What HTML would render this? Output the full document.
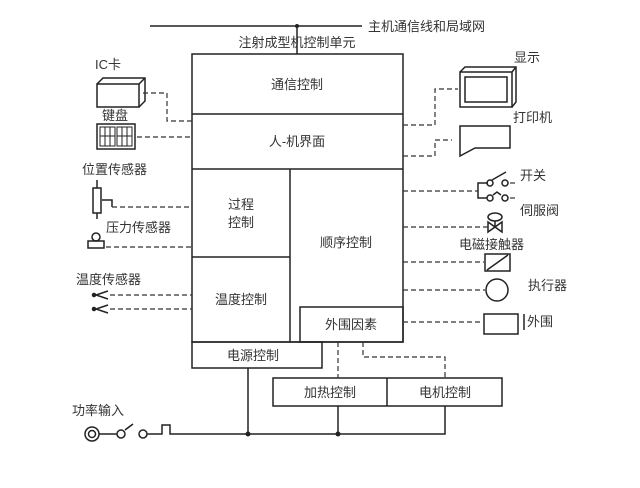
<!DOCTYPE html>
<html><head><meta charset="utf-8"><style>
html,body{margin:0;padding:0;background:#fff;}
svg{display:block;}
text{font-family:"Liberation Sans","Noto Sans CJK SC",sans-serif;font-size:13px;fill:#333;}
</style></head><body>
<svg width="640" height="488" viewBox="0 0 640 488" xmlns="http://www.w3.org/2000/svg">
<g stroke="#222" stroke-width="1.5" fill="none">
<!-- top bus -->
<line x1="150" y1="26" x2="362" y2="26"/>
<line x1="297" y1="26" x2="297" y2="54"/>
<!-- main box -->
<rect x="192" y="54" width="211" height="288"/>
<line x1="192" y1="114" x2="403" y2="114"/>
<line x1="192" y1="169" x2="403" y2="169"/>
<line x1="290" y1="169" x2="290" y2="342"/>
<line x1="192" y1="257" x2="290" y2="257"/>
<rect x="300" y="307" width="103" height="35"/>
<rect x="192" y="342" width="130" height="26"/>
<rect x="273" y="378" width="229" height="28"/>
<line x1="387" y1="378" x2="387" y2="406"/>
<!-- power -->
<line x1="248" y1="368" x2="248" y2="434"/>
<line x1="338" y1="406" x2="338" y2="434"/>
<polyline points="445,406 445,434 170,434 170,425 162,425 162,434 150,434"/>
<circle cx="92" cy="434" r="7"/><circle cx="92" cy="434" r="3.5"/>
<line x1="99" y1="434" x2="117" y2="434"/>
<circle cx="121" cy="434" r="4"/>
<line x1="125" y1="430" x2="133" y2="424"/>
<circle cx="143" cy="434" r="4"/>
<line x1="147" y1="434" x2="150" y2="434"/>
<!-- IC card -->
<rect x="97" y="84" width="42" height="23"/>
<polyline points="97,84 103,78 145,78 145,101 139,107"/><line x1="139" y1="84" x2="145" y2="78"/>
<!-- keyboard -->
<rect x="97" y="124" width="38" height="25"/>
<rect x="100" y="127" width="15" height="19" stroke-width="1"/><rect x="117" y="127" width="15" height="19" stroke-width="1"/>
<path d="M105 127V146M110 127V146M122 127V146M127 127V146M100 136H115M117 136H132" stroke-width="1"/>
<!-- position sensor -->
<rect x="93" y="188" width="8" height="25"/>
<line x1="97" y1="180" x2="97" y2="188"/><line x1="97" y1="213" x2="97" y2="219"/>
<polyline points="102,200 112,200 112,207"/>
<!-- pressure -->
<rect x="88" y="241" width="16" height="7"/>
<circle cx="96" cy="237" r="4"/>
<!-- temp -->
<path d="M108 291L96 295L108 299M108 305L96 309L108 313"/>
<circle cx="94" cy="295" r="1.5" fill="#222"/><circle cx="94" cy="309" r="1.5" fill="#222"/>
<!-- display -->
<rect x="460" y="72" width="52" height="35"/>
<rect x="465" y="77" width="42" height="25"/>
<polyline points="460,72 465,67 516,67 516,102 512,107"/><line x1="512" y1="72" x2="516" y2="67"/>
<!-- printer -->
<polygon points="460,126 510,126 510,148 475,148 460,156"/>
<!-- switch -->
<circle cx="490" cy="183" r="3"/><circle cx="505" cy="183" r="3"/>
<line x1="492" y1="180" x2="506" y2="172"/>
<circle cx="490" cy="198" r="3"/><circle cx="505" cy="198" r="3"/>
<polyline points="488,183 478,183 478,198 487,198"/>
<path d="M493 195L497 192L501 195"/>
<!-- valve -->
<ellipse cx="495" cy="217" rx="7" ry="4"/>
<line x1="495" y1="221" x2="495" y2="227"/>
<polygon points="488,222 502,232 502,222 488,232"/>
<!-- contactor -->
<rect x="485" y="254" width="25" height="17"/>
<line x1="487" y1="270" x2="508" y2="255"/>
<circle cx="497" cy="290" r="11"/>
<rect x="484" y="314" width="34" height="20"/>
<line x1="524" y1="314" x2="524" y2="330"/>
</g>
<circle cx="297" cy="26" r="2" fill="#222"/>
<circle cx="248" cy="434" r="2.5" fill="#222"/><circle cx="338" cy="434" r="2.5" fill="#222"/>
<g stroke="#333" stroke-width="1.2" fill="none" stroke-dasharray="5,3">
<polyline points="143,93 167,93 167,121 192,121"/>
<line x1="137" y1="137" x2="192" y2="137"/>
<line x1="112" y1="207" x2="192" y2="207"/>
<line x1="106" y1="247" x2="192" y2="247"/>
<line x1="110" y1="295" x2="192" y2="295"/>
<line x1="110" y1="309" x2="192" y2="309"/>
<polyline points="403,125 435,125 435,89 458,89"/>
<polyline points="403,156 435,156 435,140 452,140"/>
<line x1="403" y1="191" x2="478" y2="191"/>
<line x1="403" y1="227" x2="488" y2="227"/>
<line x1="403" y1="262" x2="484" y2="262"/>
<line x1="403" y1="290" x2="485" y2="290"/>
<line x1="403" y1="322" x2="483" y2="322"/>
<line x1="338" y1="342" x2="338" y2="378"/>
<polyline points="363,342 363,357 445,357 445,378"/>
<line x1="510" y1="183" x2="517" y2="183"/><line x1="510" y1="198" x2="517" y2="198"/>
</g>
<text x="368" y="31">主机通信线和局域网</text>
<text x="297" y="47" text-anchor="middle">注射成型机控制单元</text>
<text x="297" y="89" text-anchor="middle">通信控制</text>
<text x="297" y="146" text-anchor="middle">人-机界面</text>
<text x="241" y="209" text-anchor="middle">过程</text>
<text x="241" y="227" text-anchor="middle">控制</text>
<text x="241" y="304" text-anchor="middle">温度控制</text>
<text x="346" y="247" text-anchor="middle">顺序控制</text>
<text x="351" y="329" text-anchor="middle">外围因素</text>
<text x="253" y="360" text-anchor="middle">电源控制</text>
<text x="330" y="397" text-anchor="middle">加热控制</text>
<text x="445" y="397" text-anchor="middle">电机控制</text>
<text x="95" y="69">IC卡</text>
<text x="102" y="120">键盘</text>
<text x="82" y="174">位置传感器</text>
<text x="106" y="232">压力传感器</text>
<text x="76" y="284">温度传感器</text>
<text x="72" y="415">功率输入</text>
<text x="514" y="62">显示</text>
<text x="513" y="122">打印机</text>
<text x="520" y="180">开关</text>
<text x="520" y="215">伺服阀</text>
<text x="459" y="249">电磁接触器</text>
<text x="528" y="290">执行器</text>
<text x="527" y="326">外围</text>
</svg>
</body></html>
